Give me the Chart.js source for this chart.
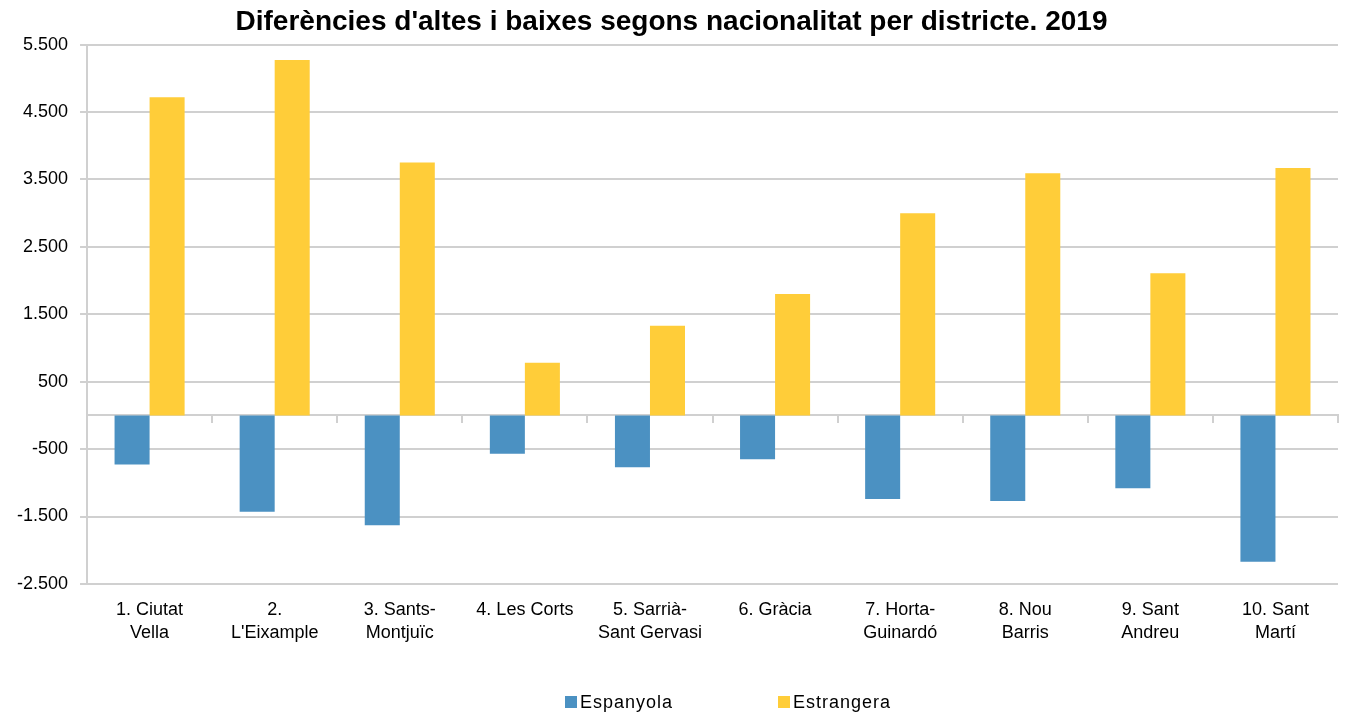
<!DOCTYPE html>
<html>
<head>
<meta charset="utf-8">
<script src="https://cdn.jsdelivr.net/npm/chart.js@4/dist/chart.umd.min.js"></script>
<style>
html, body { margin: 0; padding: 0; background: #fff; }
#wrap { width: 1346px; height: 712px; }
</style>
</head>
<body>
<div id="wrap"><canvas id="barChart"></canvas></div>
<script>
var districtes = [
    ['1. Ciutat', 'Vella'],
    ['2.', "L'Eixample"],
    ['3. Sants-', 'Montjuïc'],
    '4. Les Corts',
    ['5. Sarrià-', 'Sant Gervasi'],
    '6. Gràcia',
    ['7. Horta-', 'Guinardó'],
    ['8. Nou', 'Barris'],
    ['9. Sant', 'Andreu'],
    ['10. Sant', 'Martí']
];
var espanyola = [-730, -1430, -1630, -570, -770, -650, -1240, -1270, -1080, -2170];
var estrangera = [4720, 5270, 3750, 780, 1330, 1800, 3000, 3590, 2110, 3670];
var yTicks = [-2500, -1500, -500, 500, 1500, 2500, 3500, 4500, 5500];

var gris = '#d0d0d0';

// 5500 -> "5.500"
function fmt(v) {
    var s = Math.abs(v).toString().replace(/\B(?=(\d{3})+(?!\d))/g, '.');
    return (v < 0 ? '-' : '') + s;
}

// legend at the bottom, spaced like the original
var legendaBaix = {
    id: 'legendaBaix',
    afterDraw: function(chart) {
        var ctx = chart.ctx;
        var x = chart.width / 2 - 108;
        var y = chart.height - 10;
        ctx.save();
        ctx.font = '18px "Liberation Sans", Arial, sans-serif';
        ctx.letterSpacing = '1px';
        ctx.textBaseline = 'middle';
        chart.data.datasets.forEach(function(ds, i) {
            var bx = x + i * 213;
            ctx.fillStyle = ds.backgroundColor;
            ctx.fillRect(bx, y - 6, 12, 12);
            ctx.fillStyle = '#000';
            ctx.fillText(ds.label, bx + 15, y + 1);
        });
        ctx.restore();
    }
};

Chart.defaults.font.family = '"Liberation Sans", Arial, sans-serif';
Chart.defaults.color = '#000';

var ctx = document.getElementById('barChart').getContext('2d');
var barChart = new Chart(ctx, {
    type: 'bar',
    data: {
        labels: districtes,
        datasets: [{
            label: 'Espanyola',
            data: espanyola,
            backgroundColor: '#4b91c2'
        }, {
            label: 'Estrangera',
            data: estrangera,
            backgroundColor: '#ffcd39'
        }]
    },
    options: {
        responsive: true,
        maintainAspectRatio: false,
        animation: false,
        categoryPercentage: 0.56,
        barPercentage: 1.0,
        layout: {
            padding: { left: 5, right: 8, top: 0, bottom: 60 }
        },
        plugins: {
            legend: { display: false },
            tooltip: { enabled: false },
            title: {
                display: true,
                text: "Diferències d'altes i baixes segons nacionalitat per districte. 2019",
                color: '#000',
                font: { size: 28, weight: 'bold' },
                padding: { top: 5, bottom: 6 }
            }
        },
        scales: {
            x: {
                grid: { display: false },
                border: { display: false },
                ticks: {
                    font: { size: 18, lineHeight: 1.28 },
                    color: '#000',
                    padding: 7,
                    maxRotation: 0,
                    autoSkip: false
                }
            },
            x2: {
                type: 'category',
                position: { y: 0 },
                offset: true,
                grid: {
                    offset: true,
                    drawOnChartArea: false,
                    drawTicks: true,
                    tickLength: 7,
                    color: gris,
                    lineWidth: 2
                },
                border: { color: gris, width: 2 },
                ticks: { display: false }
            },
            y: {
                min: yTicks[0],
                max: yTicks[yTicks.length - 1],
                afterBuildTicks: function(scale) {
                    scale.ticks = yTicks.map(function(v) { return { value: v }; });
                },
                grid: { color: gris, lineWidth: 2, tickLength: 7 },
                border: { color: gris, width: 2 },
                ticks: {
                    font: { size: 18 },
                    color: '#000',
                    padding: 12,
                    callback: function(v) { return fmt(v); }
                }
            }
        }
    },
    plugins: [legendaBaix]
});
</script>
</body>
</html>
